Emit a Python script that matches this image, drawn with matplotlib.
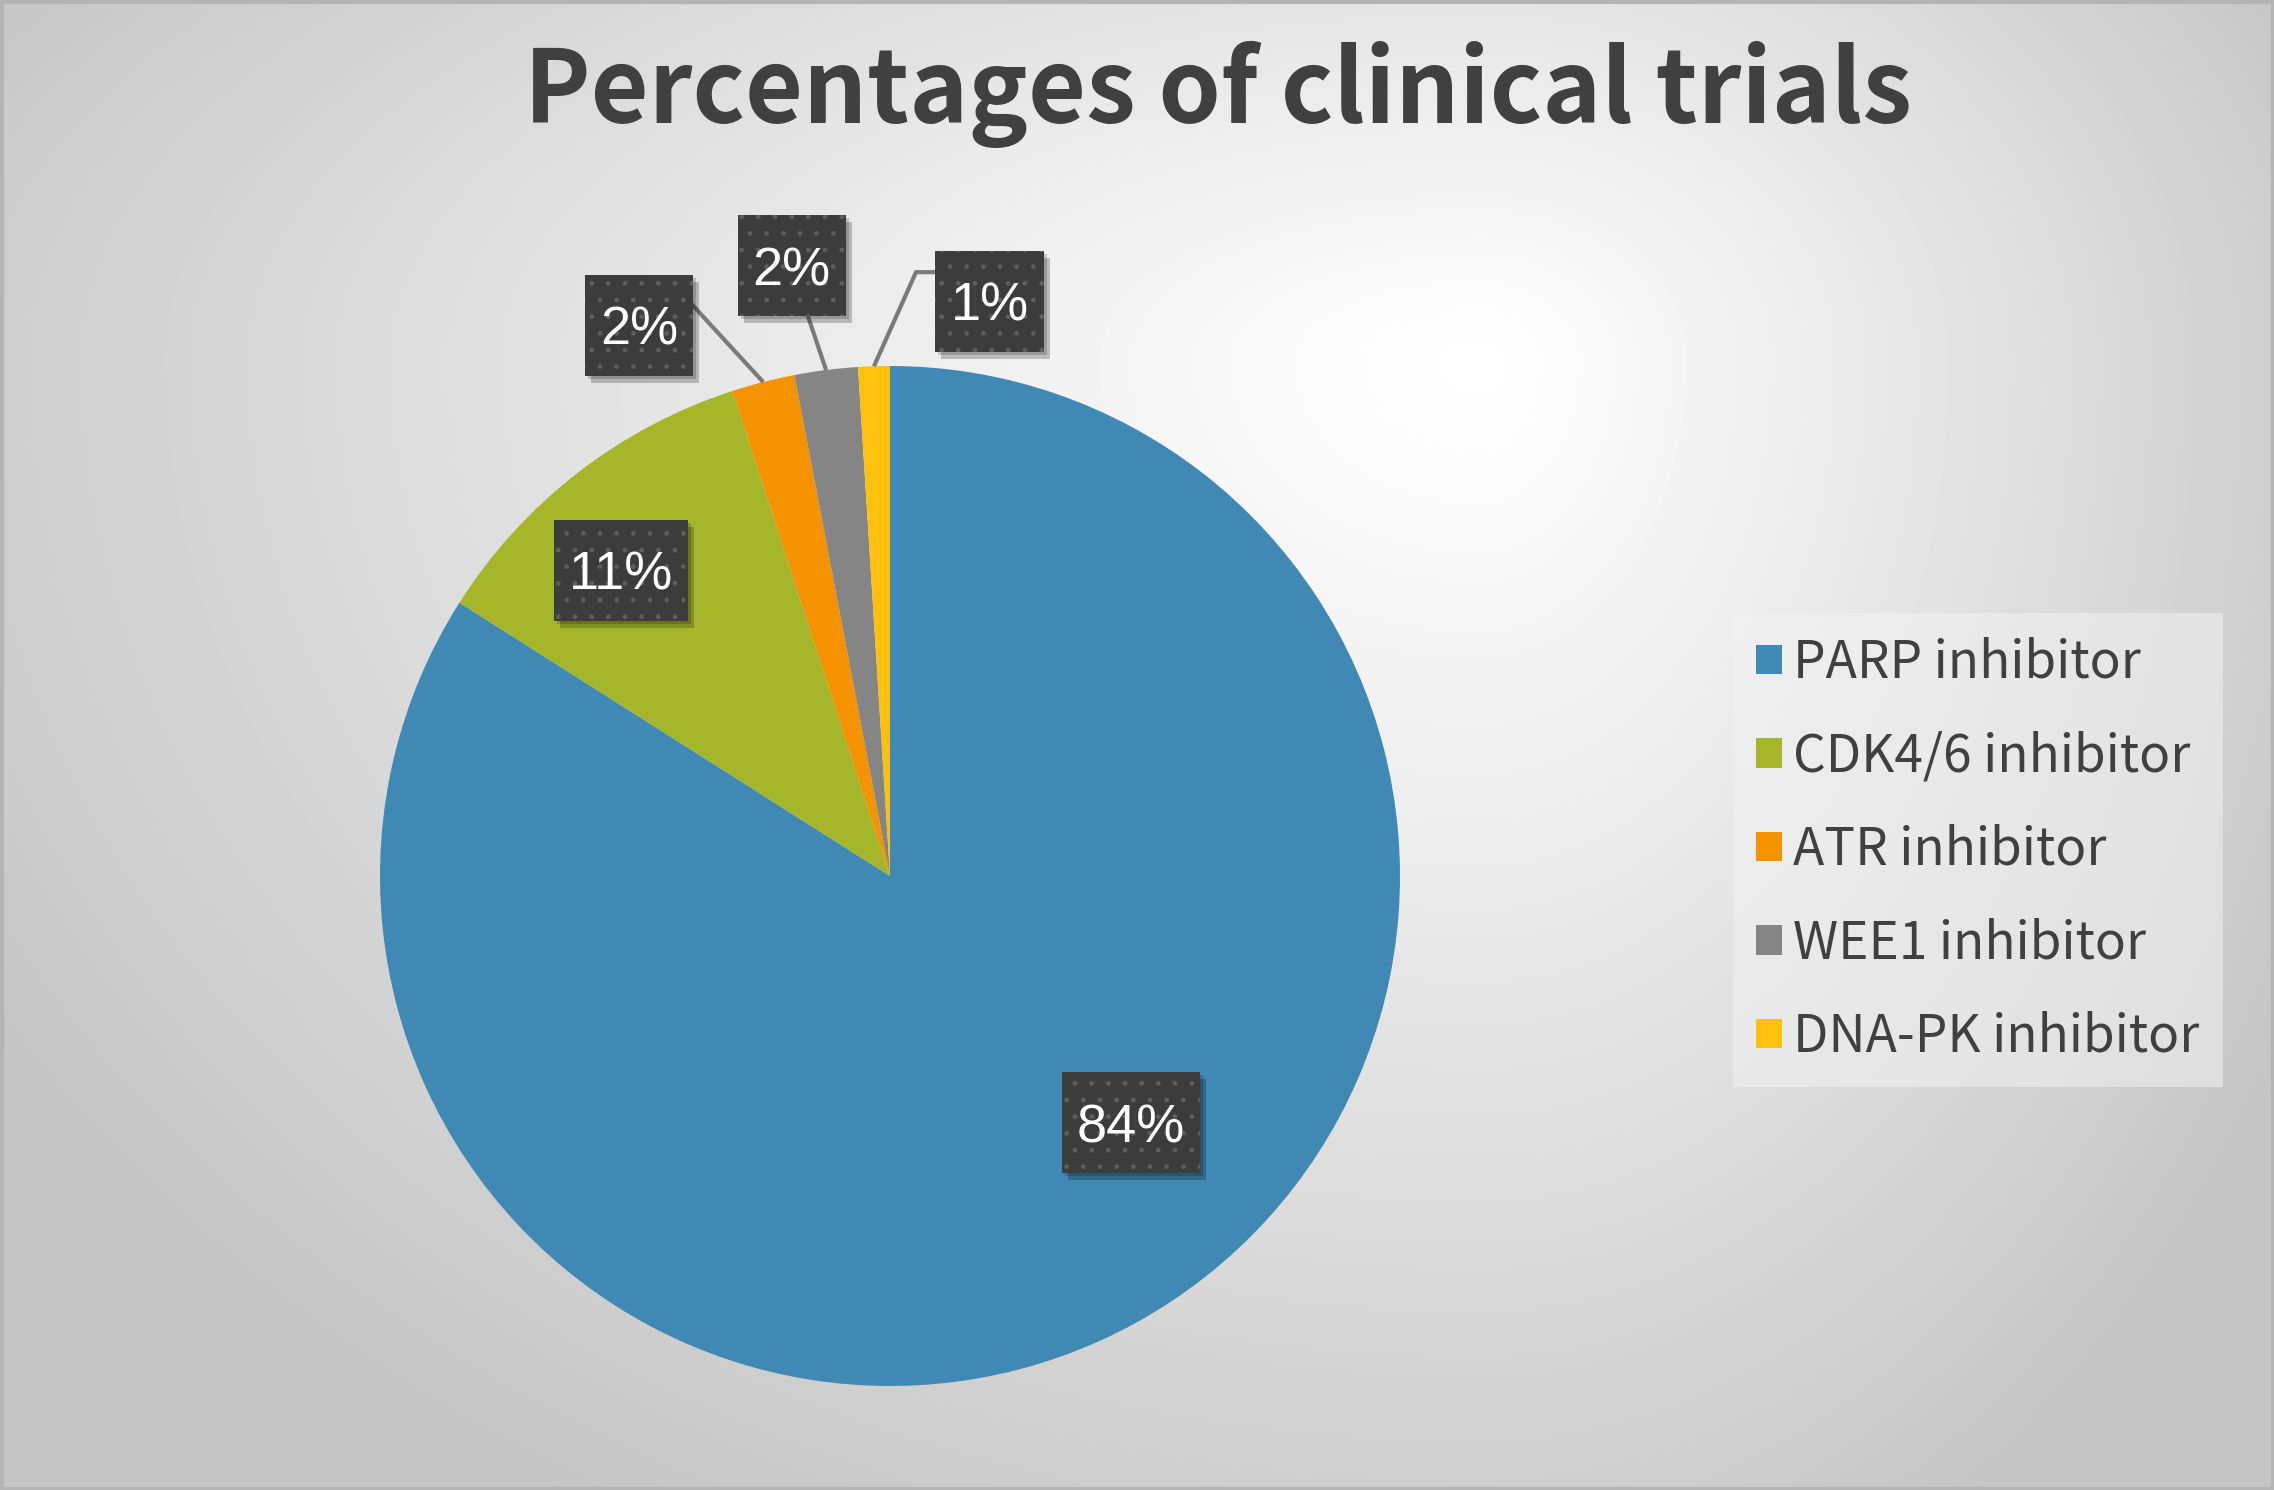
import numpy as np
import matplotlib
matplotlib.use("Agg")
import matplotlib.pyplot as plt
from matplotlib.patches import Rectangle
from matplotlib.transforms import IdentityTransform

CATEGORIES = ["PARP inhibitor", "CDK4/6 inhibitor", "ATR inhibitor",
              "WEE1 inhibitor", "DNA-PK inhibitor"]
PERCENTS = [84, 11, 2, 2, 1]
COLORS = ["#3F89B4", "#A6B62A", "#F49200", "#858585", "#FFC10E"]

# label box centres, in pie-radius units
LABEL_XY = [(0.473, -0.484), (-0.527, 0.600), (-0.492, 1.080),
            (-0.193, 1.197), (0.195, 1.127)]
# leader line start points (box side), None = label sits inside the slice
LEADER_FROM = [None, None, [(-0.396, 1.129)], [(-0.161, 1.098)],
               [(0.102, 1.184), (0.051, 1.184)]]

W, H = 2274, 1490
CX, CY, R = 890, 876, 510  # pie centre / radius in pixels

fig = plt.figure(figsize=(W / 100, H / 100), dpi=100)

# background: soft off-centre radial gradient
bg = fig.add_axes([0, 0, 1, 1], zorder=-5)
yy, xx = np.mgrid[0:H, 0:W]
dx = xx - 1480.0
dy = yy - 360.0
sx = np.where(dx < 0, 1750.0, 950.0)
sy = np.where(dy < 0, 750.0, 1350.0)
rr = np.clip(np.sqrt((dx / sx) ** 2 + (dy / sy) ** 2), 0, 1)
shade = 1.0 - 0.23 * rr ** 1.1
bg.imshow(shade, cmap="gray", vmin=0, vmax=1, aspect="auto",
          extent=[0, W, H, 0], interpolation="bilinear")
bg.set_xlim(0, W)
bg.set_ylim(H, 0)
bg.axis("off")
bg.add_patch(Rectangle((1.5, 1.5), W - 3, H - 3, fill=False,
                       ec="#b4b4b4", lw=3))

ax = fig.add_axes([0, 0, 1, 1])
ax.patch.set_alpha(0)
wedges, _ = ax.pie(PERCENTS, colors=COLORS, startangle=90, counterclock=False,
                   radius=1, wedgeprops=dict(linewidth=0))
ax.set_xlim(-CX / R, (W - CX) / R)
ax.set_ylim(-(H - CY) / R, CY / R)
ax.set_aspect("auto")
ax.axis("off")

# leader lines
for w, pts in zip(wedges, LEADER_FROM):
    if pts is None:
        continue
    mid = np.deg2rad((w.theta1 + w.theta2) / 2)
    xs = [p[0] for p in pts] + [np.cos(mid)]
    ys = [p[1] for p in pts] + [np.sin(mid)]
    ax.plot(xs, ys, color="#7a7a7a", lw=3, solid_capstyle="butt", zorder=3)

# data labels: dark dotted boxes with a drop shadow
renderer = fig.canvas.get_renderer()
box_h, pad_x = 101, 15
for pct, (lx, ly) in zip(PERCENTS, LABEL_XY):
    t = ax.text(lx, ly, f"{pct}%", ha="center", va="center_baseline",
                color="white", fontsize=39, zorder=6,
                family=["Liberation Sans", "DejaVu Sans"])
    tw = t.get_window_extent(renderer).width
    px, py = ax.transData.transform((lx, ly))
    bw = tw + 2 * pad_x
    x0, y0 = px - bw / 2, py - box_h / 2
    ax.add_patch(Rectangle((x0 + 6, y0 - 7), bw, box_h, transform=IdentityTransform(),
                           fc="black", alpha=0.22, lw=0, zorder=4))
    ax.add_patch(Rectangle((x0 + 3, y0 - 3), bw, box_h, transform=IdentityTransform(),
                           fc="black", alpha=0.18, lw=0, zorder=4))
    ax.add_patch(Rectangle((x0, y0), bw, box_h, transform=IdentityTransform(),
                           fc="#3c3c3c", ec="#5e5e5e", lw=0, hatch=".", zorder=5))

fig.text(1218 / W, 1 - 123 / H, "Percentages of clinical trials",
         ha="center", va="baseline", fontsize=72, fontweight="bold",
         color="#404040", family=["Noto Sans CJK SC", "DejaVu Sans"])

leg = fig.legend(wedges, CATEGORIES, loc="upper left",
                 bbox_to_anchor=(1733 / W, 1 - 613 / H), borderaxespad=0,
                 prop=dict(family=["Noto Sans CJK SC", "DejaVu Sans"],
                           weight="light", size=37),
                 labelcolor="#404040", handlelength=0.5, handleheight=0.5,
                 handletextpad=0.22, borderpad=0.45, labelspacing=0.78,
                 fancybox=False, frameon=True)
frame = leg.get_frame()
frame.set_facecolor("#f2f2f2")
frame.set_alpha(0.55)
frame.set_edgecolor("none")

fig.savefig("out.png", dpi=100)
